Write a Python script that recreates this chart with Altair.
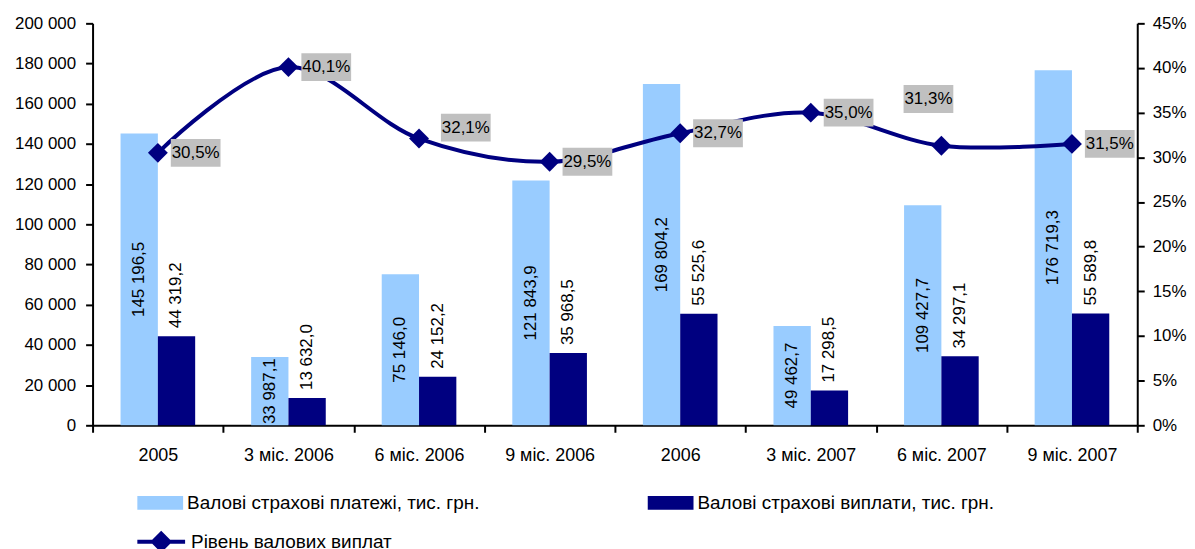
import altair as alt
import pandas as pd

categories = ["2005", "3 міс. 2006", "6 міс. 2006", "9 міс. 2006",
              "2006", "3 міс. 2007", "6 міс. 2007", "9 міс. 2007"]
payments = [145196.5, 33987.1, 75146.0, 121843.9, 169804.2, 49462.7, 109427.7, 176719.3]
claims = [44319.2, 13632.0, 24152.2, 35968.5, 55525.6, 17298.5, 34297.1, 55589.8]
ratio = [30.5, 40.1, 32.1, 29.5, 32.7, 35.0, 31.3, 31.5]

S_PAY = "Валові страхові платежі, тис. грн."
S_CL = "Валові страхові виплати, тис. грн."
S_RATIO = "Рівень валових виплат"

LIGHT = "#99CCFF"
DARK = "#000080"
FONT = "Liberation Sans"
FS = 17
FS_X = 18
FS_LEG = 19


def fmt(v):
    return f"{v:,.1f}".replace(",", " ").replace(".", ",")


rows = []
for c, p, q in zip(categories, payments, claims):
    rows.append({"cat": c, "series": S_PAY, "value": p, "label": fmt(p)})
    rows.append({"cat": c, "series": S_CL, "value": q, "label": fmt(q)})
bars_df = pd.DataFrame(rows)

line_df = pd.DataFrame({
    "cat": categories,
    "pct": ratio,
    "line_series": [S_RATIO] * len(categories),
    "plabel": [f"{r:.1f}".replace(".", ",") + "%" for r in ratio],
})

x_enc = alt.X("cat:N", sort=categories,
              scale=alt.Scale(paddingInner=0, paddingOuter=0),
              axis=alt.Axis(title=None, labelAngle=0, tickBand="extent",
                            labelFont=FONT, labelFontSize=FS_X, labelColor="black",
                            domainColor="black", tickColor="black", domainWidth=2,
                            tickWidth=2, tickSize=7, labelPadding=14, grid=False))
xo_enc = alt.XOffset("series:N", sort=[S_PAY, S_CL],
                     scale=alt.Scale(domain=[S_PAY, S_CL], paddingInner=0, paddingOuter=0.75))

left_axis = alt.Axis(title=None, values=list(range(0, 200001, 20000)),
                     labelExpr="replace(format(datum.value, ','), ',', ' ')",
                     tickSize=7, labelPadding=10, grid=False, domainColor="black",
                     tickColor="black", labelColor="black", labelFont=FONT,
                     labelFontSize=FS, domainWidth=2, tickWidth=2)
right_axis = alt.Axis(title=None, orient="right", values=list(range(0, 46, 5)),
                      labelExpr="datum.value + '%'",
                      tickSize=7, labelPadding=8, grid=False, domainColor="black",
                      tickColor="black", labelColor="black", labelFont=FONT,
                      labelFontSize=FS, domainWidth=2, tickWidth=2)
ly = alt.Scale(domain=[0, 200000])
ry = alt.Scale(domain=[0, 45])

bar_legend = alt.Legend(title=None, orient="none", legendX=45, legendY=459, columns=2,
                        columnPadding=169, symbolType="M-1,-0.3L1,-0.3L1,0.3L-1,0.3Z",
                        symbolSize=2116, symbolStrokeWidth=0, labelFontSize=FS_LEG,
                        labelFont=FONT, labelColor="black", labelLimit=800,
                        labelOffset=4, padding=0)
line_legend = alt.Legend(title=None, orient="none", legendX=43, legendY=495,
                         symbolType="M-1,0L1,0M-0.34,0L0,-0.34L0.34,0L0,0.34Z",
                         symbolSize=2304, symbolStrokeWidth=4, symbolFillColor=DARK,
                         symbolStrokeColor=DARK,
                         labelFontSize=FS_LEG, labelFont=FONT, labelColor="black",
                         labelLimit=800, labelOffset=4, padding=0)

base_b = alt.Chart(bars_df)
bars = base_b.mark_bar().encode(
    x=x_enc, xOffset=xo_enc,
    y=alt.Y("value:Q", scale=ly, axis=left_axis),
    color=alt.Color("series:N", sort=[S_PAY, S_CL],
                    scale=alt.Scale(domain=[S_PAY, S_CL], range=[LIGHT, DARK]),
                    legend=bar_legend),
)
light_text = base_b.transform_filter(alt.datum.series == S_PAY).transform_calculate(
    half="datum.value / 2"
).mark_text(angle=270, align="center", baseline="middle", font=FONT, fontSize=FS,
            color="black").encode(
    x=x_enc, xOffset=xo_enc,
    y=alt.Y("half:Q", scale=ly, axis=left_axis),
    text="label:N",
)
dark_text = base_b.transform_filter(alt.datum.series == S_CL).mark_text(
    angle=270, align="left", baseline="middle", dx=8, font=FONT, fontSize=FS,
    color="black").encode(
    x=x_enc, xOffset=xo_enc,
    y=alt.Y("value:Q", scale=ly, axis=left_axis),
    text="label:N",
)
left = alt.layer(bars, light_text, dark_text)

base_l = alt.Chart(line_df)
y_r = alt.Y("pct:Q", scale=ry, axis=right_axis)
line = base_l.mark_line(strokeWidth=4, interpolate="catmull-rom").encode(
    x=x_enc, y=y_r,
    stroke=alt.Stroke("line_series:N", scale=alt.Scale(domain=[S_RATIO], range=[DARK]),
                      legend=line_legend),
)
pts = base_l.mark_point(shape="diamond", filled=True, size=400, color=DARK,
                        opacity=1).encode(x=x_enc, y=y_r)

BOX = "M-1,-0.56L1,-0.56L1,0.56L-1,0.56Z"


def pct_labels(filt, dx, dy):
    b = base_l.transform_filter(filt)
    box = b.mark_point(shape=BOX, filled=True, size=2500, color="#C0C0C0", opacity=1,
                       strokeWidth=0, xOffset=dx, yOffset=dy).encode(x=x_enc, y=y_r)
    txt = b.mark_text(font=FONT, fontSize=FS, color="black", align="center",
                      baseline="middle", xOffset=dx, yOffset=dy).encode(
        x=x_enc, y=y_r, text="plabel:N")
    return [box, txt]


normal = (alt.datum.cat != "6 міс. 2006") & (alt.datum.cat != "6 міс. 2007")
lab_layers = (pct_labels(normal, 38, 0)
              + pct_labels(alt.datum.cat == "6 міс. 2006", 47, -11)
              + pct_labels(alt.datum.cat == "6 міс. 2007", -13, -47))

right = alt.layer(line, pts, *lab_layers)

chart = alt.layer(left, right).resolve_scale(y="independent").properties(
    width=1050, height=404,
    padding={"left": 6, "top": 5, "right": 0, "bottom": 5},
).configure_view(stroke=None)

chart.save("out.html", embed_options={"renderer": "svg", "actions": False})
